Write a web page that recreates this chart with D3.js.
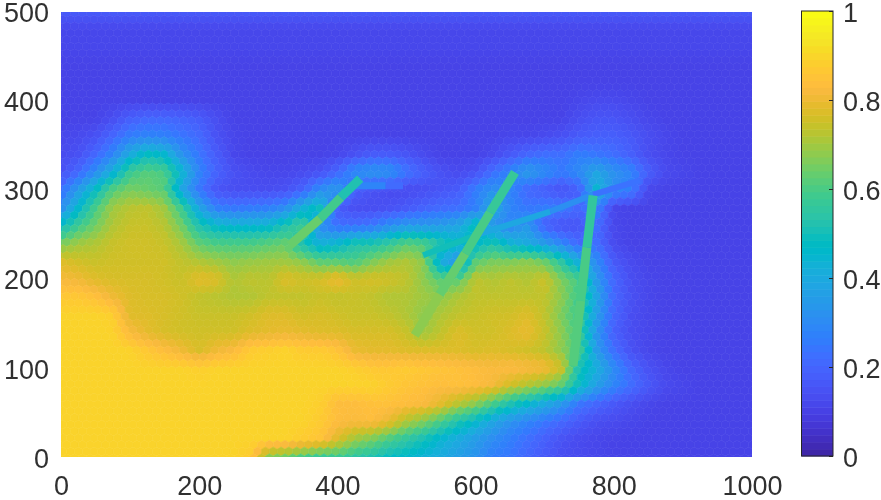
<!DOCTYPE html>
<html lang="en">
<head>
	<meta charset="UTF-8">
	<title>Heat map</title>
	<script src="https://cdn.jsdelivr.net/npm/d3@7/dist/d3.min.js"></script>
	<style>
		html, body { margin: 0; padding: 0; background: #fff; }
		#container { position: relative; width: 881px; height: 500px; overflow: hidden; }
		#field { position: absolute; overflow: hidden; }
		#field canvas { position: absolute; filter: blur(0.6px); }
		svg { position: absolute; left: 0; top: 0; }
	</style>
</head>
<body>
	<div id="container"><div id="field"></div></div>
	<script>
		var xTicks = [0, 200, 400, 600, 800, 1000];
		var yTicks = [0, 100, 200, 300, 400, 500];
		var barTicks = [0, 0.2, 0.4, 0.6, 0.8, 1];

		// sample positions of the field (percent values below)
		var xGrid = d3.range(0, 1001, 25);
		var yGrid = d3.range(500, -1, -20);

		var fieldValues = [
			[16,16,16,16,16,16,16,16,16,16, 16,16,16,16,16,16,16,16,16,16, 16,16,16,16,16,16,16,16,16,16, 16,16,16,16,16,16,16,16,16,16, 16],
			[11,11,11,11,11,11,11,11,11,11, 11,11,11,11,11,11,11,11,11,11, 11,11,11,11,11,11,11,11,11,11, 11,11,11,11,11,11,11,11,11,11, 11],
			[11,11,11,11,11,11,11,11,11,11, 11,11,11,11,11,11,11,11,11,11, 11,11,11,11,11,11,11,11,11,11, 11,11,11,11,11,11,11,11,11,11, 11],
			[10,10,10,10,10,10,10,10,10,10, 10,10,10,10,10,10,10,10,10,10, 10,10,10,10,10,10,10,10,10,10, 10,10,10,10,10,10,10,10,10,10, 10],
			[10,10,10,10,10,10,10,10,10,10, 10,10,10,10,10,10,10,10,10,10, 10,10,10,10,10,10,10,10,10,10, 10,10,10,10,10,10,10,10,10,10, 10],
			[10,10,10,10,10,10,10,10,10,10, 10,10,10,10,10,10,10,10,10,10, 10,10,10,10,10,10,10,10,10,10, 11,12,12,11,10,10,10,10,10,10, 10],
			[10,10,10,13,18,20,20,19,17,13, 10,10,10,10,10,10,10,10,10,10, 10,10,10,10,10,10,10,10,10,10, 13,15,15,13,11,10,10,10,10,10, 10],
			[11,12,14,20,26,28,27,24,21,14, 11,10,10,10,10,10,10,10,10,10, 10,10,10,10,10,10,11,11,12,14, 17,18,18,16,13,11,10,10,10,10, 10],
			[12,14,20,28,40,48,45,32,24,17, 11,10,10,10,10,10,11,14,17,17, 15,12,10,10,10,12,16,20,22,22, 26,24,22,18,13,11,10,10,10,10, 10],
			[14,20,30,42,58,62,60,45,28,19, 14,12,11,11,12,14,20,30,33,32, 24,18,14,12,14,22,28,35,30,25, 30,38,32,28,18,12,11,10,10,10, 10],
			[22,35,48,62,66,64,62,38,24,15, 13,13,13,14,19,30,35,18,14,12, 12,13,15,17,26,32,28,20,17,14, 18,45,30,26,11,10,10,10,10,10, 10],
			[30,45,60,70,73,74,70,58,38,26, 24,25,26,30,42,50,17,13,13,14, 16,19,21,22,26,40,28,24,26,25, 20,28,11,10,10,10,10,10,10,10, 10],
			[48,58,65,72,75,75,73,65,52,46, 44,44,45,52,60,30,22,22,24,30, 34,34,35,38,50,32,28,34,18,14, 15,22,11,10,10,10,10,10,10,10, 10],
			[66,70,72,75,76,76,75,71,63,60, 60,60,62,64,50,42,45,52,52,56, 62,60,52,46,45,52,44,40,35,28, 20,22,12,10,10,10,10,10,10,10, 10],
			[78,76,75,76,76,76,76,74,72,70, 68,69,70,70,68,62,62,60,66,70, 72,68,40,32,62,66,66,68,64,54, 40,30,16,12,10,10,10,10,10,10, 10],
			[82,81,78,77,77,77,76,75,79,78, 72,74,73,78,76,77,81,76,77,76, 74,68,62,62,74,72,74,72,76,66, 60,34,20,13,11,10,10,10,10,10, 10],
			[87,87,85,81,78,77,77,76,74,73, 72,72,74,74,74,75,74,75,74,72, 72,70,68,72,74,74,74,74,74,68, 58,38,20,14,11,10,10,10,10,10, 10],
			[90,90,90,89,78,78,77,76,75,75, 75,76,78,78,76,77,76,75,75,74, 72,68,72,74,75,76,76,78,74,66, 58,36,20,13,11,10,10,10,10,10, 10],
			[90,90,90,90,83,79,77,76,76,76, 76,78,79,80,79,78,78,77,77,77, 75,70,74,78,76,76,78,80,75,68, 58,33,18,13,11,10,10,10,10,10, 10],
			[90,90,90,90,90,87,84,81,77,81, 83,88,89,90,88,88,86,80,79,79, 78,78,78,78,77,78,77,76,74,68, 60,35,22,14,11,10,10,10,10,10, 10],
			[90,90,90,90,90,90,90,90,89,90, 90,90,90,90,90,90,90,89,87,87, 88,87,86,85,84,83,84,83,82,76, 50,42,30,20,14,11,10,10,10,10, 10],
			[90,90,90,90,90,90,90,90,90,90, 90,90,90,90,90,90,90,90,90,88, 86,85,84,85,84,82,76,72,68,62, 48,36,28,22,16,12,11,10,10,10, 10],
			[90,90,90,90,90,90,90,90,90,90, 90,90,90,90,90,89,84,84,85,85, 84,83,79,73,68,60,52,46,40,34, 24,20,16,13,11,10,10,10,10,10, 10],
			[90,90,90,90,90,90,90,90,90,90, 90,90,90,90,90,88,84,83,84,80, 72,67,60,52,46,38,32,28,24,20, 16,13,12,11,10,10,10,10,10,10, 10],
			[90,90,90,90,90,90,90,90,90,90, 90,90,90,90,88,86,78,70,66,60, 55,50,44,40,35,30,26,22,18,14, 12,11,10,10,10,10,10,10,10,10, 10],
			[90,90,90,90,90,90,90,90,90,90, 90,88,68,65,60,57,58,55,52,48, 46,43,40,36,32,26,24,20,16,13, 12,11,10,10,10,10,10,10,10,10, 10]
		];

		// thin straight features of the field: [x, y, value]
		var ridgeA = [[331,238,0.66], [375,268,0.62], [405,292,0.56], [433,313,0.48]];
		var ridgeB = [[512,137,0.7], [548,183,0.66], [585,229,0.61], [621,275,0.59], [657,320,0.55]];
		var ridgeC = [[741,103,0.63], [752,176,0.6], [761,236,0.6], [770,294,0.52]];
		var creaseD = [[524,227,0.54], [606,251,0.46], [708,276,0.32], [770,295,0.3], [838,311,0.16]];
		var edgeE = [[425,305,0.3], [470,305,0.26], [495,305,0.16]];

		var parula = [
			[0.2422,0.1504,0.6603],[0.2504,0.1650,0.7076],[0.2578,0.1818,0.7511],[0.2647,0.1978,0.7952],
			[0.2706,0.2147,0.8364],[0.2751,0.2342,0.8710],[0.2783,0.2559,0.8991],[0.2803,0.2782,0.9221],
			[0.2813,0.3006,0.9414],[0.2810,0.3228,0.9579],[0.2795,0.3447,0.9717],[0.2760,0.3667,0.9829],
			[0.2699,0.3892,0.9906],[0.2602,0.4123,0.9952],[0.2440,0.4358,0.9988],[0.2206,0.4603,0.9973],
			[0.1963,0.4847,0.9892],[0.1834,0.5074,0.9798],[0.1786,0.5289,0.9682],[0.1764,0.5499,0.9520],
			[0.1687,0.5703,0.9359],[0.1540,0.5902,0.9218],[0.1460,0.6091,0.9079],[0.1380,0.6276,0.8973],
			[0.1248,0.6459,0.8883],[0.1113,0.6635,0.8763],[0.0952,0.6798,0.8598],[0.0689,0.6948,0.8394],
			[0.0297,0.7082,0.8163],[0.0036,0.7203,0.7917],[0.0067,0.7312,0.7660],[0.0433,0.7411,0.7394],
			[0.0964,0.7500,0.7120],[0.1408,0.7584,0.6842],[0.1717,0.7670,0.6554],[0.1938,0.7758,0.6251],
			[0.2161,0.7843,0.5923],[0.2470,0.7918,0.5567],[0.2906,0.7973,0.5188],[0.3406,0.8008,0.4789],
			[0.3909,0.8029,0.4354],[0.4456,0.8024,0.3909],[0.5044,0.7993,0.3480],[0.5616,0.7942,0.3045],
			[0.6174,0.7876,0.2612],[0.6720,0.7793,0.2227],[0.7242,0.7698,0.1910],[0.7738,0.7598,0.1646],
			[0.8203,0.7498,0.1535],[0.8634,0.7406,0.1596],[0.9035,0.7330,0.1774],[0.9393,0.7288,0.2100],
			[0.9728,0.7298,0.2394],[0.9956,0.7434,0.2371],[0.9970,0.7659,0.2199],[0.9952,0.7861,0.1999],
			[0.9892,0.8086,0.1816],[0.9786,0.8355,0.1630],[0.9678,0.8624,0.1500],[0.9610,0.8890,0.1537],
			[0.9597,0.9135,0.1423],[0.9628,0.9373,0.1265],[0.9691,0.9606,0.1064],[0.9769,0.9839,0.0805]
		];

		var plot = { left: 61, right: 752, top: 11.5, bottom: 457 };
		var bar = { left: 801.5, right: 833, top: 11, bottom: 456 };
		var hexR = 4.5;

		var xscale = d3.scaleLinear().domain([0, 1000]).range([plot.left, plot.right]);
		var yscale = d3.scaleLinear().domain([0, 500]).range([plot.bottom, plot.top]);
		var barscale = d3.scaleLinear().domain([0, 1]).range([bar.bottom, bar.top]);
		var color = d3.scaleLinear()
			.domain(parula.map(function(d, i){ return i / (parula.length - 1); }))
			.range(parula.map(function(d){ return d3.rgb(d[0] * 255, d[1] * 255, d[2] * 255); }))
			.clamp(true);

		// value of the field at a data position, between the grid samples
		function fieldAt(x, y) {
			var fx = Math.max(0, Math.min(xGrid.length - 1.001, x / 25));
			var fy = Math.max(0, Math.min(yGrid.length - 1.001, (500 - y) / 20));
			var i = Math.floor(fx), j = Math.floor(fy);
			var top = d3.interpolateNumber(fieldValues[j][i], fieldValues[j][i + 1])(fx - i);
			var low = d3.interpolateNumber(fieldValues[j + 1][i], fieldValues[j + 1][i + 1])(fx - i);
			return d3.interpolateNumber(top, low)(fy - j) / 100;
		}

		var pad = 6;
		var w = plot.right - plot.left, h = plot.bottom - plot.top;
		d3.select("#field")
			.style("left", plot.left + "px").style("top", plot.top + "px")
			.style("width", w + "px").style("height", h + "px");
		var canvas = d3.select("#field").append("canvas")
			.attr("width", w + 2 * pad).attr("height", h + 2 * pad)
			.style("left", -pad + "px").style("top", -pad + "px");
		var context = canvas.node().getContext("2d");
		context.translate(pad - plot.left, pad - plot.top);

		function drawHex(cx, cy) {
			var v = fieldAt(xscale.invert(cx), yscale.invert(cy));
			var c = color(v);
			context.fillStyle = c;
			context.strokeStyle = c;
			context.lineWidth = 0.6;
			context.beginPath();
			d3.range(6).forEach(function(k){
				var a = Math.PI / 3 * k + Math.PI / 6;
				context.lineTo(cx + hexR * Math.cos(a), cy + hexR * Math.sin(a));
			});
			context.closePath();
			context.fill();
			context.stroke();
		}

		var hexW = Math.sqrt(3) * hexR, hexH = 1.5 * hexR;
		d3.range(plot.top - pad, plot.bottom + pad + hexH, hexH).forEach(function(cy, row){
			d3.range(plot.left - pad, plot.right + pad + hexW, hexW).forEach(function(cx){
				drawHex(cx + (row % 2 ? hexW / 2 : 0), cy);
			});
		});

		function drawRidge(points, width) {
			var line = d3.line()
				.x(function(d){ return xscale(d[0]); })
				.y(function(d){ return yscale(d[1]); })
				.context(context);
			context.lineWidth = width;
			context.lineCap = "butt";
			d3.pairs(points).forEach(function(pair){
				context.strokeStyle = color((pair[0][2] + pair[1][2]) / 2);
				context.beginPath();
				line(pair);
				context.stroke();
			});
		}

		drawRidge(creaseD, 6);
		drawRidge(edgeE, 7);
		drawRidge(ridgeA, 9);
		drawRidge(ridgeB, 9);
		drawRidge(ridgeC, 9);

		var svg = d3.select("#container").append("svg").attr("width", 881).attr("height", 500);

		// colorbar
		var steps = d3.range(parula.length);
		var stepH = (bar.bottom - bar.top) / parula.length;
		svg.append("g").selectAll("rect").data(steps).enter().append("rect")
			.attr("x", bar.left)
			.attr("width", bar.right - bar.left)
			.attr("y", function(d){ return barscale((d + 1) / parula.length); })
			.attr("height", stepH + 0.5)
			.attr("fill", function(d){ return color(d / (parula.length - 1)); });
		svg.append("rect")
			.attr("x", bar.left).attr("y", bar.top)
			.attr("width", bar.right - bar.left).attr("height", bar.bottom - bar.top)
			.attr("fill", "none").attr("stroke", "#262626").attr("stroke-width", 1);

		var barAxis = d3.axisRight(barscale).tickValues(barTicks).tickSize(-4).tickPadding(10).tickFormat(d3.format("~g"));
		var gBar = svg.append("g").attr("transform", "translate(" + bar.right + ",0)").call(barAxis);
		gBar.select(".domain").remove();
		gBar.selectAll("line").attr("stroke", "#262626");
		gBar.selectAll("text").attr("y", 1.5);

		var xAxis = d3.axisBottom(xscale).tickValues(xTicks).tickSize(0).tickPadding(19).tickFormat(d3.format("d"));
		var gx = svg.append("g").attr("transform", "translate(0," + plot.bottom + ")").call(xAxis);
		gx.select(".domain").remove();

		var yAxis = d3.axisLeft(yscale).tickValues(yTicks).tickSize(0).tickPadding(12).tickFormat(d3.format("d"));
		var gy = svg.append("g").attr("transform", "translate(" + plot.left + ",0)").call(yAxis);
		gy.select(".domain").remove();
		gy.selectAll("text").attr("y", 1.5);

		svg.selectAll("text")
			.style("font-family", '"Liberation Sans", Arial, sans-serif')
			.style("font-size", "27px")
			.style("fill", "#303030");
	</script>
</body>
</html>
